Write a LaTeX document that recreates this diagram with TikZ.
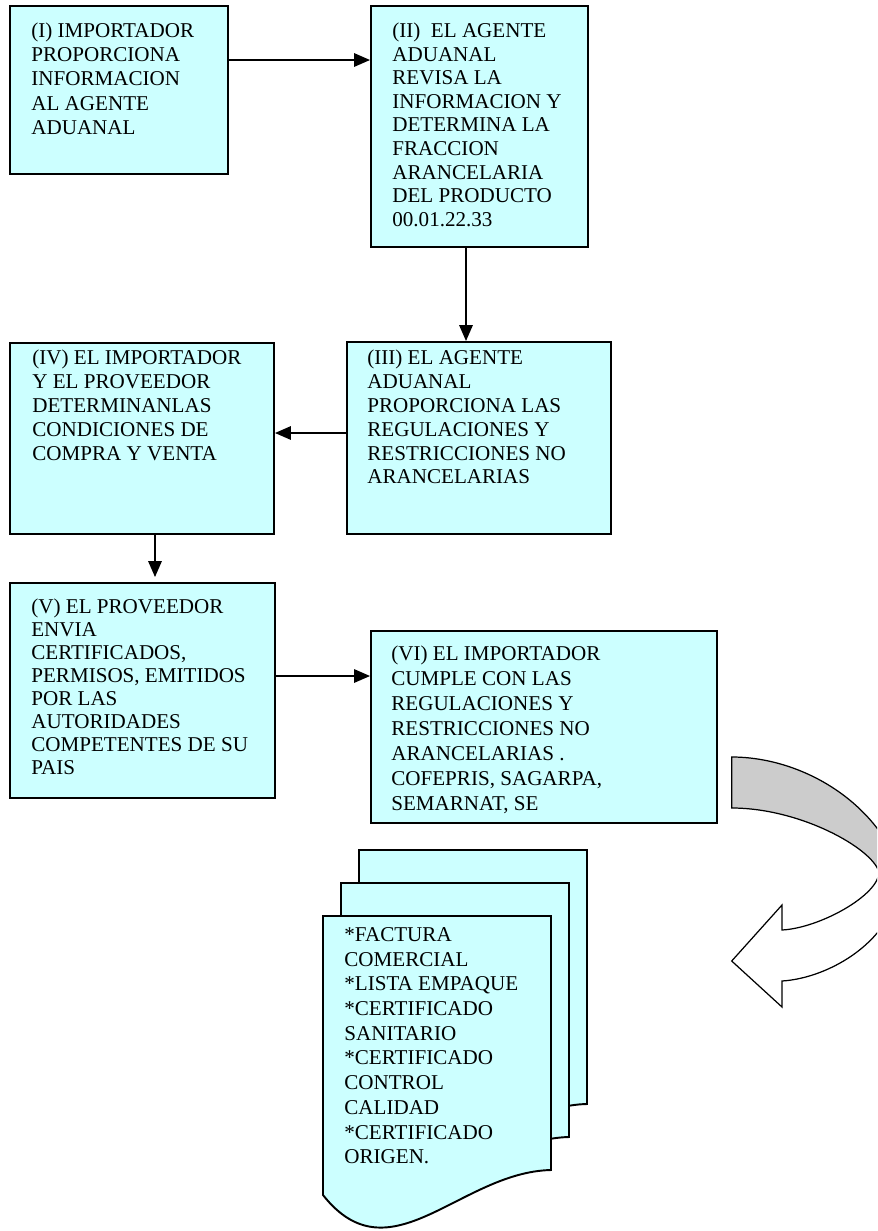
\documentclass[tikz,border=0pt]{standalone}
\usepackage{fontspec}
\setmainfont{Liberation Serif}
\usetikzlibrary{fit, arrows.meta}
\definecolor{boxcyan}{HTML}{CCFFFF}
\definecolor{foldgray}{HTML}{CCCCCC}
\tikzset{
    stagetext/.style={anchor=north west, align=left, inner sep=0pt, font=\fontsize{12pt}{#1}\selectfont}, % text inside a box
    stagetext/.default=13.6pt
}
\tikzstyle{stage}=[draw, fill=boxcyan, line width=1.1pt, inner sep=0pt]
\tikzstyle{sheet}=[draw, fill=boxcyan, line width=1.1pt, line join=miter]
\tikzstyle{flow}=[line width=0.9pt, -{Triangle[length=0.32cm, width=0.27cm]}]
\tikzstyle{foldarrow}=[draw, line width=0.7pt, line join=miter]

\begin{document}
\begin{tikzpicture}[x=0.02cm, y=-0.02cm]
          \path[use as bounding box, fill=white] (0,0) rectangle (877,1231);

          \node[stage, fit={(10,6) (228,174)}] (imp) {};
          \node[stage, fit={(371,6) (588,247)}] (rev) {};
          \node[stage, fit={(347,342) (611,534)}] (reg) {};
          \node[stage, fit={(10,343) (274,534)}] (cond) {};
          \node[stage, fit={(10,583) (275,798)}] (cert) {};
          \node[stage, fit={(371,631) (717,823)}] (cump) {};

          \node[stagetext=13.8pt] (imp_text) at (31,22.5) {(I) IMPORTADOR\\PROPORCIONA\\INFORMACION\\AL AGENTE\\ADUANAL};
          \node[stagetext=13.4pt] (rev_text) at (392,22.8) {(II)\ \ EL AGENTE\\ADUANAL\\REVISA LA\\INFORMACION Y\\DETERMINA LA\\FRACCION\\ARANCELARIA\\DEL PRODUCTO\\00.01.22.33};
          \node[stagetext=13.55pt] (reg_text) at (367,349.8) {(III) EL AGENTE\\ADUANAL\\PROPORCIONA LAS\\REGULACIONES Y\\RESTRICCIONES NO\\ARANCELARIAS};
          \node[stagetext=13.55pt] (cond_text) at (32,349.8) {(IV) EL IMPORTADOR\\Y EL PROVEEDOR\\DETERMINANLAS\\CONDICIONES DE\\COMPRA Y VENTA};
          \node[stagetext=13.15pt] (cert_text) at (31,598.2) {(V) EL PROVEEDOR\\ENVIA\\CERTIFICADOS,\\PERMISOS, EMITIDOS\\POR LAS\\AUTORIDADES\\COMPETENTES DE SU\\PAIS};
          \node[stagetext=14.2pt] (cump_text) at (391,645.5) {(VI) EL IMPORTADOR\\CUMPLE CON LAS\\REGULACIONES Y\\RESTRICCIONES NO\\ARANCELARIAS .\\COFEPRIS, SAGARPA,\\SEMARNAT, SE};

          \coordinate (imp_out) at ([yshift=0.6cm]imp.east);
          \coordinate (rev_out) at ([xshift=-0.27cm]rev.south);
          \coordinate (reg_out) at ([yshift=0.1cm]reg.west);
          \coordinate (cond_out) at ([xshift=0.26cm]cond.south);
          \coordinate (cert_out) at ([yshift=0.29cm]cert.east);

          \draw[flow] (imp_out) to (imp_out -| rev.west);
          \draw[flow] (rev_out) to (rev_out |- reg.north);
          \draw[flow] (reg_out) to (reg_out -| cond.east);
          \draw[flow, shorten >=0.1cm] (cond_out) to (cond_out |- cert.north);
          \draw[flow] (cert_out) to (cert_out -| cump.west);

          % stack of documents
          \foreach \dx/\dy in {36/-66, 18/-33, 0/0}
            \draw[sheet, shift={(\dx,\dy)}] (323,916) -- (551,916) -- (551,1170) .. controls (460,1172) and (390,1280) .. (323,1195) -- cycle;
          \node[stagetext=14.05pt] (docs) at (344,927.2) {*FACTURA\\COMERCIAL\\*LISTA EMPAQUE\\*CERTIFICADO\\SANITARIO\\*CERTIFICADO\\CONTROL\\CALIDAD\\*CERTIFICADO\\ORIGEN.};

          % curved arrow, cut by the page edge
          \coordinate (fold_in) at (879,872);
          \begin{scope}
            \clip (0,0) rectangle (877,1231);
            \filldraw[foldarrow, fill=foldgray] (731.7,757) .. controls (800,757) and (875,800) .. (900,870) -- (fold_in) .. controls (872,848) and (800,808) .. (731.7,808) -- cycle;
            \filldraw[foldarrow, fill=white] (fold_in) .. controls (879,895) and (820,928) .. (782,930) -- (782,905) -- (731.7,961) -- (782,1007) -- (782,981) .. controls (830,978) and (895,940) .. (900,880) -- cycle;
          \end{scope}
        \end{tikzpicture}
\end{document}
